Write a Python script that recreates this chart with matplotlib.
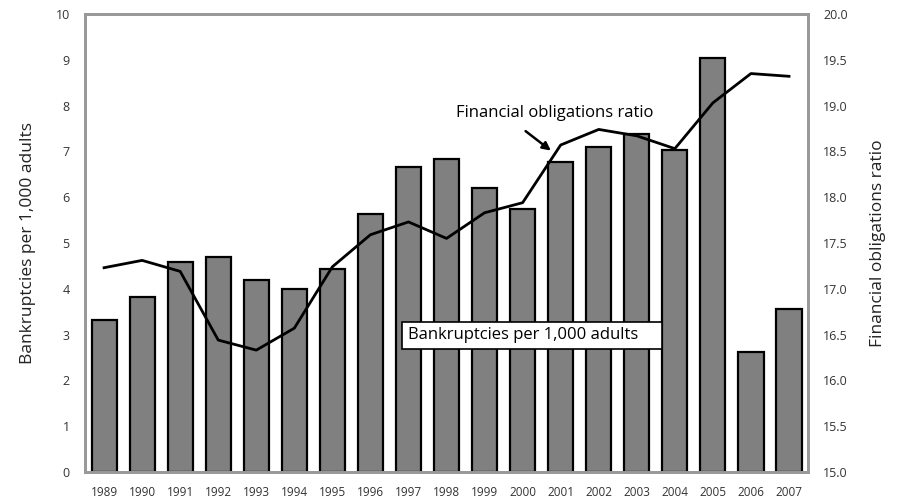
import numpy as np
import matplotlib.pyplot as plt
from matplotlib.patches import Rectangle

plt.rcParams['font.family'] = ['Open Sans', 'DejaVu Sans']

# data
years = ['1989', '1990', '1991', '1992', '1993', '1994', '1995', '1996', '1997', '1998',
         '1999', '2000', '2001', '2002', '2003', '2004', '2005', '2006', '2007']
bankruptcies = [3.32, 3.82, 4.59, 4.69, 4.19, 3.99, 4.43, 5.63, 6.66, 6.83,
                6.20, 5.75, 6.77, 7.10, 7.38, 7.03, 9.03, 2.62, 3.56]
fin_ratio = [17.23, 17.31, 17.19, 16.44, 16.33, 16.57, 17.24, 17.59, 17.73, 17.55,
             17.83, 17.94, 18.57, 18.74, 18.67, 18.53, 19.03, 19.35, 19.32]
left_ticks = list(range(0, 11))
right_ticks = [15.0, 15.5, 16.0, 16.5, 17.0, 17.5, 18.0, 18.5, 19.0, 19.5, 20.0]

x = np.arange(len(years))
tick_col = '#333333'
spine_col = '#999999'

fig = plt.figure(figsize=(8.99, 5.01), dpi=100)
ax = fig.add_axes([0.0946, 0.058, 0.8042, 0.914])
ax2 = ax.twinx()

ax.bar(x, bankruptcies, width=0.66, color='#808080', edgecolor='black', linewidth=1.6, zorder=2)
ax2.plot(x, fin_ratio, color='black', linewidth=2, zorder=3)

ax.set_xlim(-0.5, len(years) - 0.5)
ax.set_ylim(0, 10)
ax2.set_ylim(15, 20)
ax.set_xticks(x)
ax.set_xticklabels(years, fontsize=8.5, color=tick_col)
ax.set_yticks(left_ticks)
ax.set_yticklabels([str(t) for t in left_ticks], fontsize=9, color=tick_col)
ax2.set_yticks(right_ticks)
ax2.set_yticklabels(['%.1f' % t for t in right_ticks], fontsize=9, color=tick_col)
ax.tick_params(axis='both', length=0, pad=11)
ax.tick_params(axis='x', pad=10)
ax2.tick_params(axis='y', length=0, pad=11)

for a in (ax, ax2):
    for s in a.spines.values():
        s.set_color(spine_col)
        s.set_linewidth(2)

ax.set_ylabel('Bankruptcies per 1,000 adults', fontsize=12.5, color='#222222', labelpad=14)
ax2.set_ylabel('Financial obligations ratio', fontsize=12.5, color='#222222', labelpad=16)

# annotations
ax2.text(11.84, 18.92, 'Financial obligations ratio', fontsize=12, ha='center', va='center', zorder=5)
ax2.annotate('', xy=(x[12] - 0.2, fin_ratio[12] - 0.08), xytext=(x[12] - 0.98, fin_ratio[12] + 0.17),
             arrowprops=dict(arrowstyle='-|>', color='black', lw=1.8, mutation_scale=12), zorder=5)
ax.add_patch(Rectangle((7.82, 2.69), 6.83, 0.59, facecolor='white', edgecolor='black',
                       linewidth=1.2, zorder=4))
ax.text(7.98, 2.985, 'Bankruptcies per 1,000 adults', fontsize=12, ha='left', va='center', zorder=5)

fig.savefig('out.png', dpi=100)
